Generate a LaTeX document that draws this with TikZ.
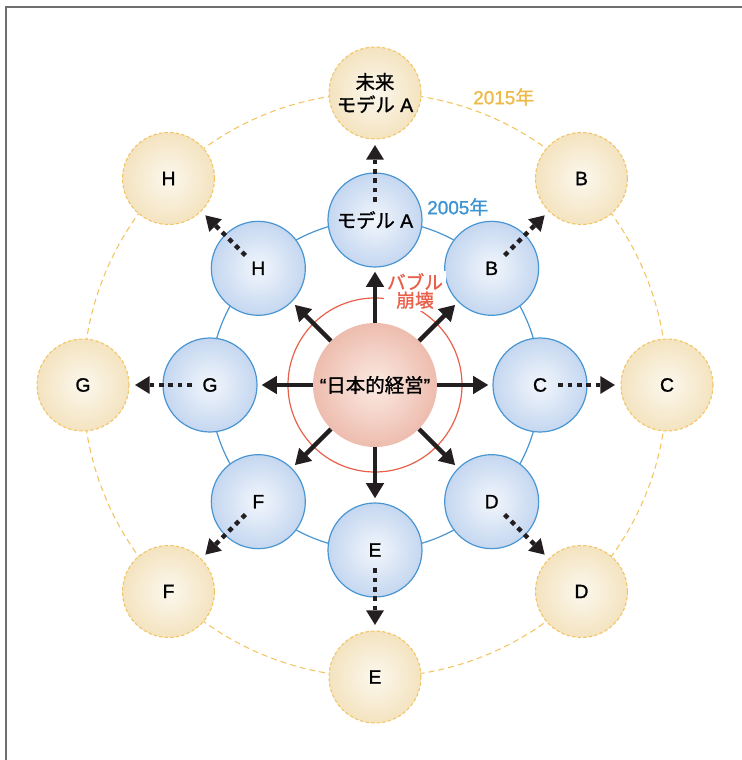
\documentclass[tikz,border=0pt]{standalone}
\usepackage{fontspec}
\setmainfont{Liberation Sans}[FakeBold=0]
\newfontfamily\lat{Liberation Sans}[FakeBold=1.2]
\newfontfamily\jp{Noto Sans CJK JP}[FakeBold=1.2]
\usetikzlibrary{arrows.meta}

\definecolor{ink}{HTML}{231F20}
\definecolor{frameGray}{HTML}{6E6E6E}
\definecolor{blueEdge}{HTML}{4A96D2}
\definecolor{blueIn}{HTML}{F2F6FC}
\definecolor{blueOut}{HTML}{A2BFE7}
\definecolor{yelEdge}{HTML}{F2C462}
\definecolor{yelIn}{HTML}{FCF8EE}
\definecolor{yelOut}{HTML}{EDD39C}
\definecolor{redIn}{HTML}{FBEAE3}
\definecolor{redOut}{HTML}{E39A86}
\definecolor{redLine}{HTML}{E8604A}
\definecolor{yearYel}{HTML}{EDBA4A}
\definecolor{yearBlue}{HTML}{3E93D1}

\pgfdeclareradialshading{blueball}{\pgfpoint{0bp}{0bp}}{color(0bp)=(blueIn); color(44bp)=(blueOut); color(50bp)=(blueOut)}
\pgfdeclareradialshading{yelball}{\pgfpoint{0bp}{0bp}}{color(0bp)=(yelIn); color(44bp)=(yelOut); color(50bp)=(yelOut)}
\pgfdeclareradialshading{redball}{\pgfpoint{0bp}{0bp}}{color(0bp)=(redIn); color(44bp)=(redOut); color(50bp)=(redOut)}

\tikzset{
  letter/.style={font=\lat\fontsize{14.5}{17}\selectfont},
  nowball/.style={circle, inner sep=0pt, minimum size=70.5pt, draw=blueEdge,
    line width=0.9pt, shade, shading=blueball, letter},
  futureball/.style={circle, inner sep=0pt, minimum size=69pt, draw=yelEdge,
    line width=0.8pt, dash pattern=on 2.6pt off 1.6pt, shade, shading=yelball, letter},
  coreball/.style={circle, inner sep=0pt, minimum size=93pt, shade, shading=redball,
    font=\jp\fontsize{14.6}{17}\selectfont},
  solidarrow/.style={draw=ink, line width=3.3pt,
    -{Triangle[width=13pt,length=11.5pt]}, shorten >=3pt},
  dotarrow/.style={draw=ink, line width=3.2pt, dash pattern=on 3.6pt off 3.4pt,
    -{Triangle[width=12.5pt,length=11pt]}, shorten <=-22pt, shorten >=4pt},
}

\begin{document}
\begin{tikzpicture}[x=0.75pt,y=0.75pt]
  \useasboundingbox (-375,-375) rectangle (367,385);

  % frame
  \draw[frameGray, line width=1.3pt] (367,378) -- (-369,378) -- (-369,-375);

  % rings behind the balls
  \draw[yelEdge, line width=0.8pt, dash pattern=on 4.5pt off 3pt] (0,0) circle[radius=292];
  \draw[blueEdge, line width=0.9pt] (0,0) circle[radius=165];
  \draw[redLine, line width=0.9pt] (0,0) circle[radius=87];

  % centre
  \node[coreball] (core) at (0,0) {{\lat“}日本的経営{\lat”}};

  % 2005 models
  \node[nowball] (nA) at (90:165) {{\jp モデル} A};
  \node[nowball] (nB) at (45:165) {B};
  \node[nowball] (nC) at (0:165) {C};
  \node[nowball] (nD) at (-45:165) {D};
  \node[nowball] (nE) at (-90:165) {E};
  \node[nowball] (nF) at (-135:165) {F};
  \node[nowball] (nG) at (180:165) {G};
  \node[nowball] (nH) at (135:165) {H};

  % 2015 models
  \node[futureball, align=center] (fA) at (90:292) {{\jp 未来}\\{\jp モデル} A};
  \node[futureball] (fB) at (45:292) {B};
  \node[futureball] (fC) at (0:292) {C};
  \node[futureball] (fD) at (-45:292) {D};
  \node[futureball] (fE) at (-90:292) {E};
  \node[futureball] (fF) at (-135:292) {F};
  \node[futureball] (fG) at (180:292) {G};
  \node[futureball] (fH) at (135:292) {H};

  % labels
  \node[fill=white, inner sep=2pt, align=center, text=redLine,
        font=\jp\fontsize{14}{13.5}\selectfont] (bubble) at (40,94) {バブル\\崩壊};
  \node[anchor=west, inner sep=0pt, text=yearBlue, font=\lat\fontsize{14.2}{15}\selectfont]
        (y2005) at (52,178) {2005{\jp 年}};
  \node[anchor=west, inner sep=0pt, text=yearYel, font=\lat\fontsize{14.2}{15}\selectfont]
        (y2015) at (98,288) {2015{\jp 年}};

  % arrows
  \foreach \n in {A,B,C,D,E,F,G,H} {
    \draw[solidarrow] (core) -- (n\n);
    \draw[dotarrow] (n\n) -- (f\n);
  }
\end{tikzpicture}
\end{document}
